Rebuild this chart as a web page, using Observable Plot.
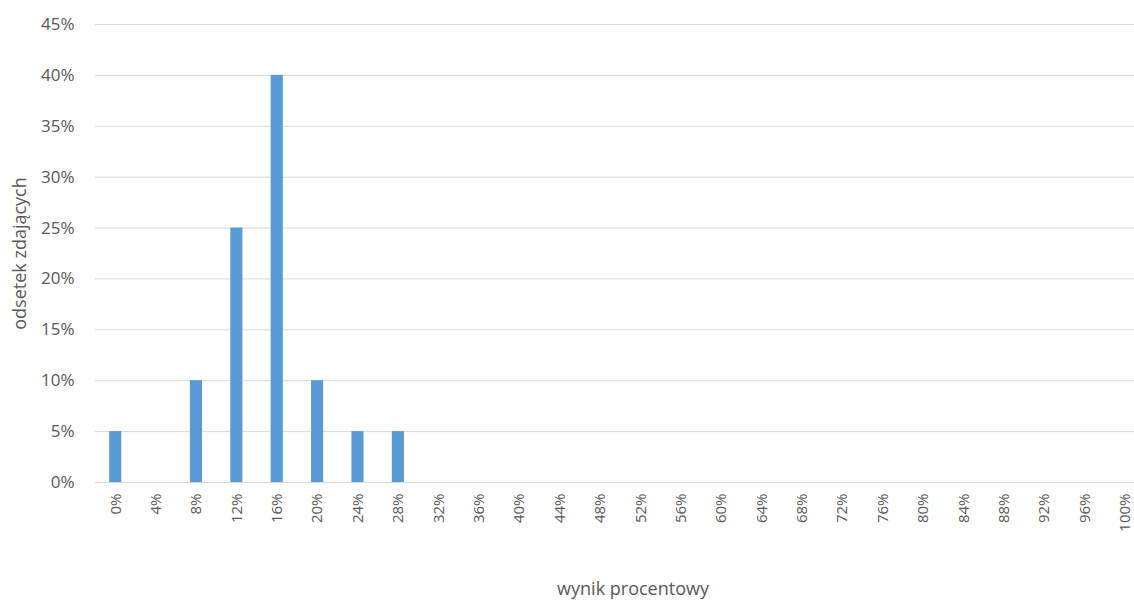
<!DOCTYPE html>
<html>
<head>
<meta charset="utf-8">
<script src="https://cdn.jsdelivr.net/npm/d3@7"></script>
<script src="https://cdn.jsdelivr.net/npm/@observablehq/plot@0.6"></script>
<style>
  html, body { margin: 0; padding: 0; background: #fff; overflow: hidden; }
  #chart svg { display: block; }
</style>
</head>
<body>
<div id="chart"></div>
<script>
const categories = ["0%","4%","8%","12%","16%","20%","24%","28%","32%","36%","40%","44%","48%","52%","56%","60%","64%","68%","72%","76%","80%","84%","88%","92%","96%","100%"];
const values = [5,0,10,25,40,10,5,5,0,0,0,0,0,0,0,0,0,0,0,0,0,0,0,0,0,0];
const yTicks = [0,5,10,15,20,25,30,35,40,45];
const yTitle = "odsetek zdających";
const xTitle = "wynik procentowy";

const data = categories.map((c, i) => ({category: c, value: values[i]}));
const textColor = "#595959";
const font = "'Open Sans', sans-serif";

const chart = Plot.plot({
  width: 1134,
  height: 605,
  marginLeft: 95,
  marginRight: 0,
  marginTop: 24,
  marginBottom: 123,
  style: {fontFamily: font, color: textColor, background: "#fff"},
  x: {domain: categories, range: [95, 1145], paddingInner: 0.7, paddingOuter: 0.35, round: false, axis: null},
  y: {domain: [0, 45], axis: null},
  marks: [
    Plot.ruleY(yTicks, {stroke: "#d9d9d9", strokeWidth: 1}),
    Plot.barY(data.filter(d => d.value > 0), {x: "category", y: "value", fill: "#5b9bd5"}),
    Plot.axisY({ticks: yTicks, tickSize: 0, tickPadding: 21, tickFormat: d => d + "%", fontSize: 17, fill: textColor, label: null}),
    Plot.axisX({tickSize: 0, tickPadding: 11, tickRotate: -90, fontSize: 15, fill: textColor, label: null}),
    Plot.text([yTitle], {frameAnchor: "left", rotate: -90, dx: -75, fontSize: 18, fill: textColor, textAnchor: "middle"}),
    Plot.text([xTitle], {frameAnchor: "bottom", dx: 18, dy: 112, fontSize: 18, fill: textColor, textAnchor: "middle"})
  ]
});
document.getElementById("chart").appendChild(chart);
</script>
</body>
</html>
